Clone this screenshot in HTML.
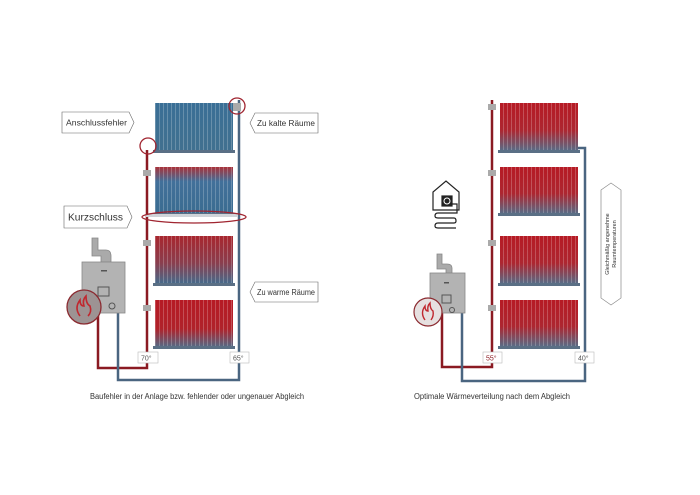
<!DOCTYPE html>
<html><head><meta charset="utf-8"><style>
html,body{margin:0;padding:0;background:#fff;}
svg{display:block;font-family:"Liberation Sans",sans-serif;}
</style></head><body>
<svg width="700" height="495" viewBox="0 0 700 495" xmlns="http://www.w3.org/2000/svg">
<defs>
<linearGradient id="gBlue" x1="0" y1="0" x2="0" y2="1"><stop offset="0" stop-color="#3a6f96"/><stop offset="1" stop-color="#41708f"/></linearGradient>
<linearGradient id="gR2" x1="0" y1="0" x2="0" y2="1"><stop offset="0" stop-color="#a8323a"/><stop offset="0.3" stop-color="#42709a"/><stop offset="1" stop-color="#3a6c90"/></linearGradient>
<linearGradient id="gR3" x1="0" y1="0" x2="0" y2="1"><stop offset="0" stop-color="#a8262e"/><stop offset="0.55" stop-color="#8a3e4e"/><stop offset="1" stop-color="#426e90"/></linearGradient>
<linearGradient id="gR4" x1="0" y1="0" x2="0" y2="1"><stop offset="0" stop-color="#b61a24"/><stop offset="0.6" stop-color="#b0222a"/><stop offset="1" stop-color="#506e8a"/></linearGradient>
<linearGradient id="gOK" x1="0" y1="0" x2="0" y2="1"><stop offset="0" stop-color="#b61a24"/><stop offset="0.55" stop-color="#ad2630"/><stop offset="1" stop-color="#54718c"/></linearGradient>
<pattern id="stripes" width="4" height="10" patternUnits="userSpaceOnUse"><rect x="3" y="0" width="1" height="10" fill="#ffffff" opacity="0.22"/></pattern>
</defs>

<g fill="none" stroke-width="2.5">
<path d="M98 312 V368 H147 V150" stroke="#8b1a22"/>
<path d="M118 312 V380 H239 V100" stroke="#4a6580"/>
</g>
<g>
<rect x="155" y="103" width="78" height="49" fill="url(#gBlue)"/><rect x="155" y="103" width="78" height="49" fill="url(#stripes)"/>
<rect x="155" y="167" width="78" height="48" fill="url(#gR2)"/><rect x="155" y="167" width="78" height="48" fill="url(#stripes)"/>
<rect x="155" y="236" width="78" height="49" fill="url(#gR3)"/><rect x="155" y="236" width="78" height="49" fill="url(#stripes)"/>
<rect x="155" y="300" width="78" height="48" fill="url(#gR4)"/><rect x="155" y="300" width="78" height="48" fill="url(#stripes)"/>
<rect x="153" y="150" width="82" height="3" fill="#5a6f85"/>
<rect x="153" y="213" width="82" height="3" fill="#5a6f85"/>
<rect x="153" y="283" width="82" height="3" fill="#5a6f85"/>
<rect x="153" y="346" width="82" height="3" fill="#5a6f85"/>
<rect x="143" y="170" width="8" height="6" fill="#aaa"/><rect x="143" y="240" width="8" height="6" fill="#aaa"/><rect x="143" y="305" width="8" height="6" fill="#aaa"/>
<rect x="233" y="103" width="8" height="8" fill="#aaa"/>
<rect x="146" y="214" width="92" height="3" fill="#cfd3d8"/>
</g>
<circle cx="148" cy="146" r="8" fill="none" stroke="#a02530" stroke-width="1.3"/>
<circle cx="237" cy="106" r="8" fill="none" stroke="#a02530" stroke-width="1.3"/>
<ellipse cx="194" cy="217" rx="52" ry="6" fill="none" stroke="#a02530" stroke-width="1.3"/>

<g>
<path d="M92 238 H98 V250 H106 Q111 250 111 256 V262 H101 V256 H92 Z" fill="#aaa" stroke="#888" stroke-width="0.8"/>
<rect x="82" y="262" width="43" height="51" fill="#b3b3b3" stroke="#888" stroke-width="0.8"/>
<rect x="101" y="270" width="6" height="1.5" fill="#555"/>
<rect x="98" y="287" width="11" height="9" fill="none" stroke="#555" stroke-width="1"/>
<circle cx="112" cy="306" r="3" fill="none" stroke="#555"/>
<circle cx="84" cy="307" r="17" fill="#9d9393" stroke="#8b2a30" stroke-width="1.3"/>
<path d="M80 316 Q74 308 80 300 Q80 306 84 306 Q82 300 86 296 Q86 304 90 306 Q92 312 88 316" fill="none" stroke="#c0282f" stroke-width="1.6"/>
</g>

<g stroke="#666" stroke-width="0.6" fill="#fff">
<path d="M62 112 H129 L134 122.5 L129 133 H62 Z"/>
<path d="M255 113 H318 V133 H255 L250 123 Z"/>
<path d="M64 206 H127 L132 217 L127 228 H64 Z"/>
<path d="M255 282 H318 V302 H255 L250 292 Z"/>
</g>
<g font-size="7.8" fill="#333">
<text x="66" y="125.5" textLength="61" lengthAdjust="spacingAndGlyphs">Anschlussfehler</text>
<text x="257" y="126" textLength="58" lengthAdjust="spacingAndGlyphs">Zu kalte Räume</text>
<text x="68" y="220.5" font-size="10" textLength="55" lengthAdjust="spacingAndGlyphs">Kurzschluss</text>
<text x="257" y="295" textLength="58" lengthAdjust="spacingAndGlyphs">Zu warme Räume</text>
</g>
<g font-size="7" fill="#555">
<rect x="138" y="352" width="20" height="11" fill="#fff" stroke="#bbb" stroke-width="0.6"/><text x="141" y="360.5">70°</text>
<rect x="230" y="352" width="19" height="11" fill="#fff" stroke="#bbb" stroke-width="0.6"/><text x="233" y="360.5">65°</text>
</g>
<text x="197" y="399" font-size="7.8" fill="#333" text-anchor="middle" textLength="214" lengthAdjust="spacingAndGlyphs">Baufehler in der Anlage bzw. fehlender oder ungenauer Abgleich</text>

<g fill="none" stroke-width="2.5">
<path d="M442 313 V367 H492 V100" stroke="#8b1a22"/>
<path d="M462 313 V381 H585 V148 H578" stroke="#4a6580"/>
</g>
<g>
<rect x="500" y="103" width="78" height="49" fill="url(#gOK)"/><rect x="500" y="103" width="78" height="49" fill="url(#stripes)"/>
<rect x="500" y="167" width="78" height="48" fill="url(#gOK)"/><rect x="500" y="167" width="78" height="48" fill="url(#stripes)"/>
<rect x="500" y="236" width="78" height="49" fill="url(#gOK)"/><rect x="500" y="236" width="78" height="49" fill="url(#stripes)"/>
<rect x="500" y="300" width="78" height="48" fill="url(#gOK)"/><rect x="500" y="300" width="78" height="48" fill="url(#stripes)"/>
<rect x="498" y="150" width="82" height="3" fill="#5a6f85"/>
<rect x="498" y="213" width="82" height="3" fill="#5a6f85"/>
<rect x="498" y="283" width="82" height="3" fill="#5a6f85"/>
<rect x="498" y="346" width="82" height="3" fill="#5a6f85"/>
<rect x="488" y="104" width="8" height="6" fill="#aaa"/><rect x="488" y="170" width="8" height="6" fill="#aaa"/><rect x="488" y="240" width="8" height="6" fill="#aaa"/><rect x="488" y="305" width="8" height="6" fill="#aaa"/>
</g>
<g>
<path d="M437 254 H442 V264 H447 Q452 264 452 268 V273 H446 V269 H437 Z" fill="#aaa" stroke="#888" stroke-width="0.8"/>
<rect x="430" y="273" width="35" height="40" fill="#b3b3b3" stroke="#888" stroke-width="0.8"/>
<rect x="444" y="282" width="5" height="1.5" fill="#555"/>
<rect x="442" y="295" width="9" height="8" fill="none" stroke="#555" stroke-width="1"/>
<circle cx="452" cy="310" r="2.5" fill="none" stroke="#555"/>
<circle cx="428" cy="312" r="14" fill="#e6e0e0" stroke="#8b2a30" stroke-width="1.2"/>
<path d="M425 320 Q420 313 425 306 Q425 311 428 311 Q427 306 430 303 Q430 309 433 311 Q434 316 431 320" fill="none" stroke="#c0282f" stroke-width="1.4"/>
</g>
<g fill="none" stroke="#222" stroke-width="1.2">
<path d="M433 210 V192 L446 181 L459 192 V210 Z"/>
<rect x="442" y="196" width="10" height="10" fill="#222"/>
<circle cx="447" cy="201" r="3" stroke="#fff" stroke-width="1"/>
<path d="M452 204 H457 V213 H438 Q435 213 435 216 Q435 218 438 218 H454 Q456 218 456 221 Q456 223 454 223 H438 Q435 223 435 226 Q435 228 438 228 H456"/>
</g>
<path d="M601 190 L611 183 L621 190 V298 L611 305 L601 298 Z" fill="#fff" stroke="#888" stroke-width="0.7"/>
<text transform="translate(609,244) rotate(-90)" font-size="5.5" fill="#333" text-anchor="middle">Gleichmäßig angenehme</text>
<text transform="translate(616,244) rotate(-90)" font-size="5.5" fill="#333" text-anchor="middle">Raumtemperaturen</text>
<g font-size="7" fill="#555">
<rect x="483" y="352" width="19" height="11" fill="#fff" stroke="#bbb" stroke-width="0.6"/><text x="486" y="360.5" fill="#8b1a22">55°</text>
<rect x="575" y="352" width="19" height="11" fill="#fff" stroke="#bbb" stroke-width="0.6"/><text x="578" y="360.5">40°</text>
</g>
<text x="492" y="399" font-size="7.8" fill="#333" text-anchor="middle" textLength="156" lengthAdjust="spacingAndGlyphs">Optimale Wärmeverteilung nach dem Abgleich</text>
</svg>
</body></html>
